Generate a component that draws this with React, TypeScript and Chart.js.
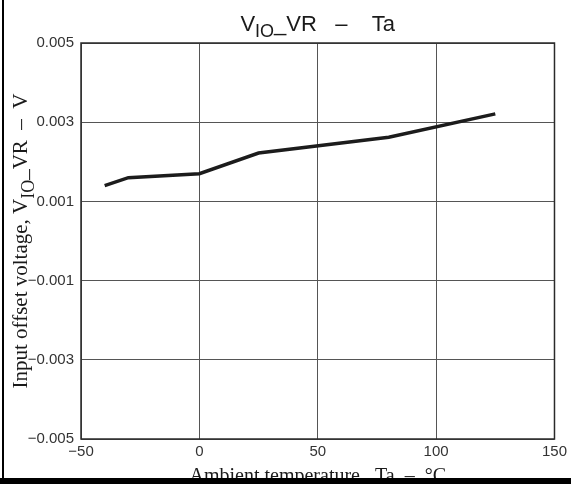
import React, { useEffect, useRef } from "react";
import { Chart, registerables } from "chart.js";

Chart.register(...registerables);

// Ambient temperature (°C) and input offset voltage (V)
const temperatures = [-40, -30, 0, 25, 80, 125];
const offsetVoltages = [0.0014, 0.0016, 0.0017, 0.00222, 0.00262, 0.00321];

const xTicks = { min: -50, max: 150, step: 50 };
const yTicks = { min: -0.005, max: 0.005, step: 0.002 };

const SANS = "'Liberation Sans', Arial, sans-serif";
const SERIF = "'Liberation Serif', 'Times New Roman', serif";

type Seg = { text: string; font: string; dy?: number };

// Draws a run of text pieces (with optional baseline shift for subscripts),
// centred on x, with its main baseline at y.
function drawRun(ctx: CanvasRenderingContext2D, segs: Seg[], x: number, y: number) {
  let total = 0;
  for (const s of segs) {
    ctx.font = s.font;
    total += ctx.measureText(s.text).width;
  }
  let cx = x - total / 2;
  ctx.textAlign = "left";
  ctx.textBaseline = "alphabetic";
  for (const s of segs) {
    ctx.font = s.font;
    ctx.fillText(s.text, cx, y + (s.dy || 0));
    cx += ctx.measureText(s.text).width;
  }
}

const decorations = {
  id: "decorations",
  afterDraw(chart: any) {
    const { ctx, chartArea } = chart;
    const { left, top, right, bottom } = chartArea;
    ctx.save();

    // plot frame
    ctx.strokeStyle = "#2a2a2a";
    ctx.lineWidth = 1.5;
    ctx.strokeRect(left, top, right - left, bottom - top);

    ctx.fillStyle = "#1a1a1a";
    // chart title
    drawRun(
      ctx,
      [
        { text: "V", font: `22px ${SANS}` },
        { text: "IO", font: `18px ${SANS}`, dy: 6 },
        { text: "_VR   \u2013    Ta", font: `22px ${SANS}` },
      ],
      (left + right) / 2,
      31
    );

    // y-axis title (rotated)
    ctx.save();
    ctx.translate(27, (top + bottom) / 2);
    ctx.rotate(-Math.PI / 2);
    drawRun(
      ctx,
      [
        { text: "Input offset voltage, V", font: `21px ${SERIF}` },
        { text: "IO", font: `18px ${SERIF}`, dy: 7 },
        { text: "_VR  \u2013  V", font: `21px ${SERIF}` },
      ],
      0,
      0
    );
    ctx.restore();

    // x-axis title
    drawRun(
      ctx,
      [{ text: "Ambient temperature,  Ta  \u2013  \u00b0C", font: `20px ${SERIF}` }],
      (left + right) / 2,
      482
    );

    // page edges
    ctx.fillStyle = "#000";
    ctx.fillRect(2, 0, 2, chart.height);
    ctx.fillRect(0, 478, chart.width, chart.height - 478);

    ctx.restore();
  },
};

export default function App() {
  const canvasRef = useRef<HTMLCanvasElement | null>(null);

  useEffect(() => {
    if (!canvasRef.current) return;
    const chart = new Chart(canvasRef.current, {
      type: "line",
      data: {
        datasets: [
          {
            data: temperatures.map((t, i) => ({ x: t, y: offsetVoltages[i] })),
            borderColor: "#1c1c1c",
            borderWidth: 3.5,
            pointRadius: 0,
            tension: 0,
            fill: false,
          },
        ],
      },
      options: {
        animation: false,
        responsive: false,
        maintainAspectRatio: false,
        layout: { padding: { top: 43, right: 14, left: 0, bottom: 0 } },
        plugins: { legend: { display: false }, tooltip: { enabled: false } },
        scales: {
          x: {
            type: "linear",
            min: xTicks.min,
            max: xTicks.max,
            afterFit: (s: any) => {
              s.height = 45;
            },
            ticks: {
              stepSize: xTicks.step,
              padding: 4,
              color: "#333",
              font: { family: SANS, size: 15 },
              callback: (v: any) => String(v).replace("-", "\u2212"),
            },
            grid: { color: "#555", lineWidth: 1, drawTicks: false },
            border: { display: false },
          },
          y: {
            type: "linear",
            min: yTicks.min,
            max: yTicks.max,
            afterFit: (s: any) => {
              s.width = 81;
            },
            ticks: {
              stepSize: yTicks.step,
              padding: 7,
              color: "#333",
              font: { family: SANS, size: 15 },
              callback: (v: any) => Number(v).toFixed(3).replace("-", "\u2212"),
            },
            grid: { color: "#555", lineWidth: 1, drawTicks: false },
            border: { display: false },
          },
        },
      },
      plugins: [decorations],
    });
    return () => chart.destroy();
  }, []);

  return (
    <div style={{ position: "absolute", left: 0, top: 0, width: 571, height: 484, background: "#fff" }}>
      <canvas ref={canvasRef} width={571} height={484} />
    </div>
  );
}
